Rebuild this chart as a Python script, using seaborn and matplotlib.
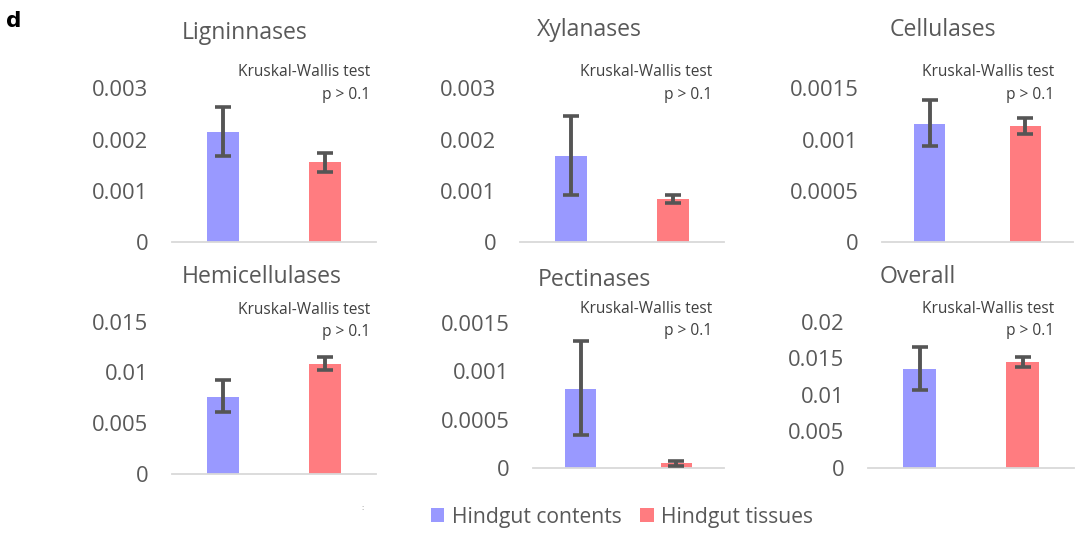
import numpy as np
import matplotlib
matplotlib.use("Agg")
import matplotlib.pyplot as plt
import matplotlib.patches as mpatches
from matplotlib.ticker import FuncFormatter
import seaborn as sns

# ---- data -------------------------------------------------------------
groups = ["Hindgut contents", "Hindgut tissues"]
bar_colors = ["#9999FF", "#FF7C80"]

panel_titles = ["Ligninnases", "Xylanases", "Cellulases",
                "Hemicellulases", "Pectinases", "Overall"]

ligninnases_mean = [0.00215, 0.00156]
ligninnases_low = [0.00168, 0.00137]
ligninnases_high = [0.00264, 0.00173]

xylanases_mean = [0.00168, 0.00083]
xylanases_low = [0.00092, 0.00077]
xylanases_high = [0.00246, 0.00092]

cellulases_mean = [0.00115, 0.00113]
cellulases_low = [0.00094, 0.00105]
cellulases_high = [0.00139, 0.00121]

hemicellulases_mean = [0.0076, 0.0108]
hemicellulases_low = [0.0061, 0.01025]
hemicellulases_high = [0.0093, 0.0115]

pectinases_mean = [0.00082, 0.00005]
pectinases_low = [0.00034, 0.000025]
pectinases_high = [0.00131, 0.000075]

overall_mean = [0.0135, 0.01445]
overall_low = [0.01066, 0.01377]
overall_high = [0.0165, 0.0152]

y_ticks = [
    [0, 0.001, 0.002, 0.003],
    [0, 0.001, 0.002, 0.003],
    [0, 0.0005, 0.001, 0.0015],
    [0, 0.005, 0.01, 0.015],
    [0, 0.0005, 0.001, 0.0015],
    [0, 0.005, 0.01, 0.015, 0.02],
]

test_label = "Kruskal-Wallis test"
p_label = "p > 0.1"

# ---- styling ----------------------------------------------------------
sns.set_theme(style="white")
plt.rcParams["font.family"] = ["Open Sans", "DejaVu Sans"]

W, H = 1077, 540
fig = plt.figure(figsize=(W / 100, H / 100), dpi=100)


def fx(x):
    return x / W


def fy(y):
    return 1 - y / H


def rect(l, r, base, top):
    return [fx(l), fy(base), (r - l) / W, (base - top) / H]


# axes boxes in pixels: left, right, baseline, top
boxes = [
    (172, 376, 242, 88.3),
    (520, 724, 242, 88.3),
    (882, 1073, 242, 88.3),
    (172, 376, 474, 321.7),
    (533, 724, 468, 322.7),
    (868, 1074, 468, 321.7),
]
title_pos = [(245, 33), (589, 30), (943, 30), (262, 277), (594, 280), (918, 277)]
note_pos = [(370, 72, 95), (712, 72, 95), (1054, 72, 95),
            (370, 310, 332), (712, 309, 331), (1054, 309, 331)]

means = [ligninnases_mean, xylanases_mean, cellulases_mean,
         hemicellulases_mean, pectinases_mean, overall_mean]
lows = [ligninnases_low, xylanases_low, cellulases_low,
        hemicellulases_low, pectinases_low, overall_low]
highs = [ligninnases_high, xylanases_high, cellulases_high,
         hemicellulases_high, pectinases_high, overall_high]

gray = "#595959"
fmt = FuncFormatter(lambda v, _: "0" if v == 0 else f"{v:g}")

for i in range(6):
    ax = fig.add_axes(rect(*boxes[i]))
    m = np.array(means[i])
    lo = np.array(lows[i])
    hi = np.array(highs[i])
    sns.barplot(x=groups, y=m, hue=groups, palette=bar_colors, saturation=1,
                width=0.32, linewidth=0, legend=False, ax=ax)
    ax.errorbar(x=[0, 1], y=m, yerr=[m - lo, hi - m], fmt="none",
                ecolor="#555555", elinewidth=2.8, capsize=5.6, capthick=2.6,
                zorder=5)
    ax.set_xlim(-0.5, 1.5)
    ax.set_ylim(0, y_ticks[i][-1])
    ax.set_yticks(y_ticks[i])
    ax.yaxis.set_major_formatter(fmt)
    ax.set_xticks([])
    ax.set_xlabel("")
    ax.set_ylabel("")
    for s in ["top", "right", "left"]:
        ax.spines[s].set_visible(False)
    ax.spines["bottom"].set_color("#D9D9D9")
    ax.spines["bottom"].set_linewidth(1.3)
    ax.tick_params(axis="y", length=0, pad=17, labelsize=15.8, labelcolor=gray)
    ax.set_facecolor("none")
    ax.grid(False)

    tx, ty = title_pos[i]
    fig.text(fx(tx), fy(ty), panel_titles[i], ha="center", va="center",
             fontsize=16.6, color=gray)
    nx, ny1, ny2 = note_pos[i]
    fig.text(fx(nx), fy(ny1), test_label, ha="right", va="center",
             fontsize=11.2, color="#404040")
    fig.text(fx(nx), fy(ny2), p_label, ha="right", va="center",
             fontsize=11.2, color="#404040")

# panel letter
fig.text(fx(14), fy(21), "d", ha="center", va="center", fontsize=15.5,
         fontweight="bold", color="black", family=["DejaVu Sans"])

# small mark left of the legend
fig.text(fx(363), fy(508), ":", ha="center", va="center", fontsize=6,
         color="#888888")

handles = [mpatches.Patch(facecolor=c, edgecolor="none", label=g)
           for g, c in zip(groups, bar_colors)]
leg = fig.legend(handles=handles, loc="center", bbox_to_anchor=(fx(622), fy(517)),
                 ncol=2, frameon=False, fontsize=15.2, handlelength=0.65,
                 handleheight=0.65, handletextpad=0.35, columnspacing=0.9,
                 borderpad=0, borderaxespad=0)
for t in leg.get_texts():
    t.set_color(gray)

fig.savefig("out.png", dpi=100)
